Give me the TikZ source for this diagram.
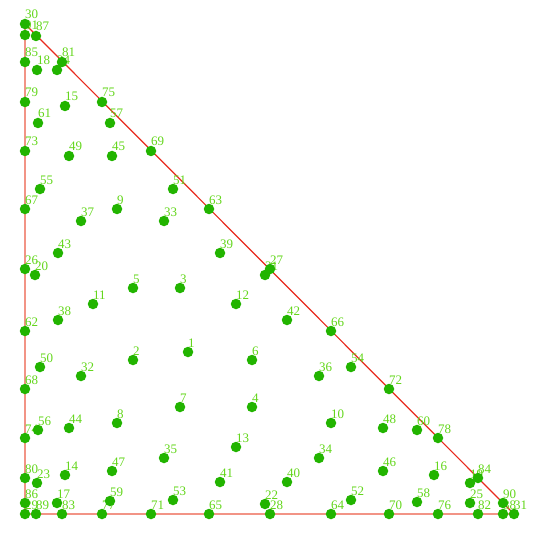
\documentclass[tikz,border=0pt]{standalone}
\usepackage{fontspec}
\setmainfont{Liberation Serif}
\definecolor{dotgreen}{HTML}{22B400}
\definecolor{labgreen}{HTML}{62D61A}
\definecolor{edgesalmon}{HTML}{F29486}
\definecolor{edgered}{HTML}{E82A1E}
\begin{document}
\begin{tikzpicture}[x=1pt,y=-1pt,
  dot/.style={circle,fill=dotgreen,draw=none,minimum size=10.5pt,inner sep=0pt},
  lab/.style={anchor=base west,inner sep=0pt,text=labgreen,font=\fontsize{13}{13}\selectfont},
  legedge/.style={draw=edgesalmon,line width=2.6pt},
  hypedge/.style={draw=edgered,line width=1.2pt}]
\useasboundingbox (0,0) rectangle (540,540);
\def\pts{1/188/352,2/133/360,3/180/288,4/252/407,5/133/288,6/252/360,7/180/407,8/117/423,9/117/209,10/331/423,
11/93/304,12/236/304,13/236/447,14/65/475,15/65/106,16/434/475,17/57/503,18/37/70,19/470/483,20/35/275,
21/265/275,22/265/504,23/37/483,24/57/70,25/470/503,26/25/269,27/270/269,28/270/514,29/25/514,30/25/24,
31/514/514,32/81/376,33/164/221,34/319/458,35/164/458,36/319/376,37/81/221,38/58/320,39/220/253,40/287/482,
41/220/482,42/287/320,43/58/253,44/69/428,45/112/156,46/383/471,47/112/471,48/383/428,49/69/156,50/40/367,
51/173/189,52/351/500,53/173/500,54/351/367,55/40/189,56/38/430,57/110/123,58/417/502,59/110/501,60/417/430,
61/38/123,62/25/331,63/209/209,64/331/514,65/209/514,66/331/331,67/25/209,68/25/389,69/151/151,70/389/514,
71/151/514,72/389/389,73/25/151,74/25/438,75/102/102,76/438/514,77/102/514,78/438/438,79/25/102,80/25/478,
81/62/62,82/478/514,83/62/514,84/478/478,85/25/62,86/25/503,87/36/36,88/503/514,89/36/514,90/503/503,91/25/35}
% positions
\foreach \n/\x/\y in \pts { \coordinate (c\n) at (\x,\y); }
% triangle edges
\draw[legedge] (c30) -- (c29) -- (c31);
\draw[hypedge] (c30) -- (c31);
% labels
\foreach \n/\x/\y in \pts { \node[lab] (l\n) at (\x,\y-5) {\n}; }
% dots
\foreach \n/\x/\y in \pts { \node[dot] (p\n) at (c\n) {}; }
\end{tikzpicture}
\end{document}
